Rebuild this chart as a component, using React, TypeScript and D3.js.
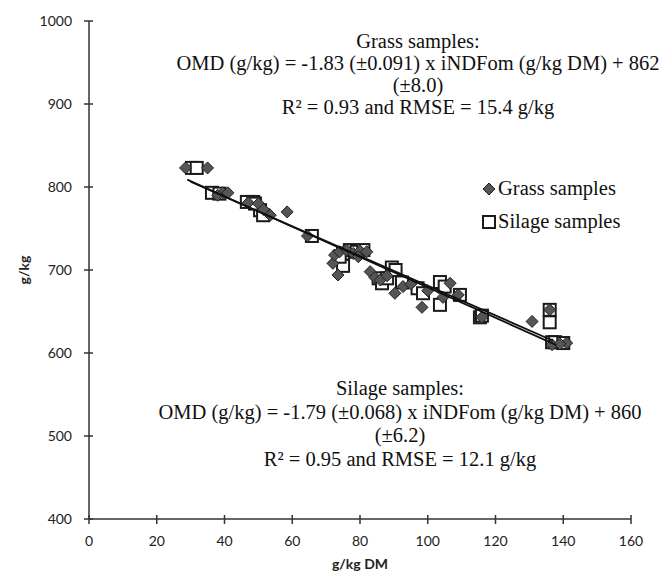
import React from "react";
import * as d3 from "d3";

const xTicks = [0, 20, 40, 60, 80, 100, 120, 140, 160];
const yTicks = [400, 500, 600, 700, 800, 900, 1000];

// Grass samples (diamonds): [iNDFom g/kg DM, OMD g/kg]
const grassX = [28.5, 35, 39.5, 41, 38, 47, 50, 51.5, 53.5, 58.5, 64.5, 72, 73.5, 72.5, 74, 76, 78, 80, 82, 79.5, 83, 84.4, 86, 88, 90.3, 92.7, 95, 98.3, 104.5, 106.6, 109, 100, 116, 130.8, 136, 136.7, 141, 139];
const grassY = [823, 823, 793, 793, 790, 781, 780, 773, 766, 770, 741, 708, 694, 718, 722, 724, 720, 723, 722, 716, 698, 691, 688, 693, 672, 680, 683, 655, 667, 684, 670, 675, 643, 638, 652, 610, 612, 611];

// Silage samples (squares)
const silageX = [30.4, 31.8, 36.3, 38.5, 46.6, 48.5, 50.5, 51.4, 49, 65.8, 75, 75, 77, 79, 74, 81, 85.5, 86.5, 88, 89.4, 90.5, 92.4, 97, 98.6, 103.6, 103.6, 105, 109.5, 115.4, 116, 136, 136, 136.7, 137.6, 140];
const silageY = [823, 823, 793, 792, 782, 782, 772, 766, 780, 741, 705, 720, 724, 722, 716, 724, 690, 684, 690, 703, 700, 685, 678, 672, 685.5, 658, 680, 670, 643, 645, 652, 637, 613, 613, 612];

// Regression fits
const grassFit = { slope: -1.83, intercept: 862, x0: 29, x1: 138 };
const silageFit = { slope: -1.79, intercept: 860, x0: 30, x1: 137 };

const grassText = ["Grass samples:", "OMD (g/kg) = -1.83 (±0.091) x iNDFom (g/kg DM) + 862", "(±8.0)", "R² = 0.93 and RMSE = 15.4 g/kg"];
const silageText = ["Silage samples:", "OMD (g/kg) = -1.79 (±0.068) x iNDFom (g/kg DM) + 860", "(±6.2)", "R² = 0.95 and RMSE = 12.1 g/kg"];
const legendLabels = ["Grass samples", "Silage samples"];

export default function App() {
  const W = 662, H = 576;
  const x = d3.scaleLinear().domain([0, 160]).range([89, 631]);
  const y = d3.scaleLinear().domain([400, 1000]).range([519, 21]);
  const serif = "'Liberation Serif', 'Times New Roman', serif";
  const sans = "Lato, 'Open Sans', sans-serif";
  const axisColor = "#333";

  const line = d3.line<number>().x((v) => x(v[0])).y((v) => y(v[1]));
  const fitLine = (f: any) => line([[f.x0, f.slope * f.x0 + f.intercept], [f.x1, f.slope * f.x1 + f.intercept]] as any);

  const diamond = (cx: number, cy: number, r: number) => `M${cx},${cy - r}L${cx + r},${cy}L${cx},${cy + r}L${cx - r},${cy}Z`;

  return (
    <div style={{ position: "absolute", left: 0, top: 0 }}>
      <svg width={W} height={H} style={{ display: "block", background: "#fff" }}>
        {/* axes */}
        <line x1={x(0)} x2={x(0)} y1={y(1000)} y2={y(400)} stroke={axisColor} strokeWidth={1.5} />
        <line x1={x(0)} x2={x(160)} y1={y(400)} y2={y(400)} stroke={axisColor} strokeWidth={1.5} />
        {yTicks.map((t) => (
          <g key={"y" + t}>
            <line x1={x(0) - 5} x2={x(0) + 4} y1={y(t)} y2={y(t)} stroke={axisColor} strokeWidth={1.5} />
            <text x={72} y={y(t)} dy="0.35em" textAnchor="end" fontFamily={sans} fontSize={14} fill="#222">{t}</text>
          </g>
        ))}
        {xTicks.map((t) => (
          <g key={"x" + t}>
            <line x1={x(t)} x2={x(t)} y1={y(400) - 4} y2={y(400) + 5} stroke={axisColor} strokeWidth={1.5} />
            <text x={x(t)} y={546} textAnchor="middle" fontFamily={sans} fontSize={14} fill="#222">{t}</text>
          </g>
        ))}
        <text x={360} y={569} textAnchor="middle" fontFamily={sans} fontWeight="bold" fontSize={14} fill="#222">g/kg DM</text>
        <text transform="translate(29,270) rotate(-90)" textAnchor="middle" fontFamily={sans} fontWeight="bold" fontSize={14} fill="#222">g/kg</text>

        {/* silage squares */}
        {silageX.map((v, i) => (
          <rect key={"s" + i} x={x(v) - 6} y={y(silageY[i]) - 6} width={12} height={12} fill="#fff" stroke="#1a1a1a" strokeWidth={2} />
        ))}
        {/* grass diamonds */}
        {grassX.map((v, i) => (
          <path key={"g" + i} d={diamond(x(v), y(grassY[i]), 6)} fill="#555" stroke="#222" strokeWidth={1} />
        ))}
        {/* fit lines */}
        <path d={fitLine(grassFit) || ""} stroke="#111" strokeWidth={1.8} fill="none" />
        <path d={fitLine(silageFit) || ""} stroke="#111" strokeWidth={1.8} fill="none" />

        {/* annotations */}
        <g fontFamily={serif} fontSize={20.5} fill="#111" textAnchor="middle">
          {grassText.map((s, i) => (
            <text key={"gt" + i} x={418} y={48 + i * 22}>{s}</text>
          ))}
          {silageText.map((s, i) => (
            <text key={"st" + i} x={400} y={395 + i * 23.5}>{s}</text>
          ))}
        </g>

        {/* legend */}
        <path d={diamond(489, 189, 6)} fill="#555" stroke="#222" strokeWidth={1} />
        <text x={498} y={195} fontFamily={serif} fontSize={20.5} fill="#111">{legendLabels[0]}</text>
        <rect x={483} y={216} width={12} height={12} fill="#fff" stroke="#1a1a1a" strokeWidth={2} />
        <text x={498} y={228} fontFamily={serif} fontSize={20.5} fill="#111">{legendLabels[1]}</text>
      </svg>
    </div>
  );
}
